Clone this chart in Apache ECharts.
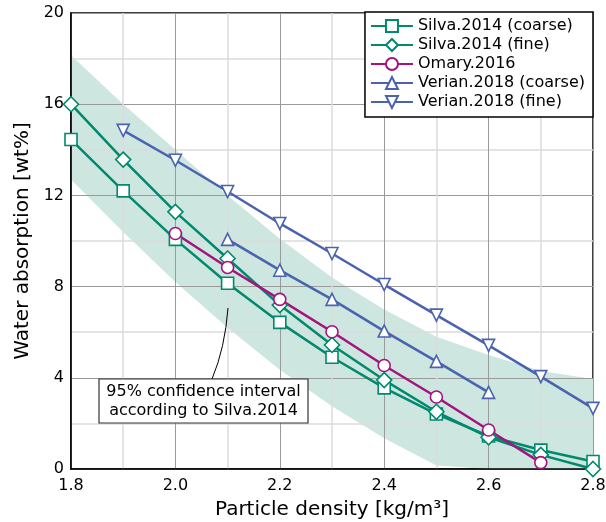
<!DOCTYPE html>
<html>
<head>
<meta charset="utf-8">
<script src="https://cdn.jsdelivr.net/npm/echarts@6/dist/echarts.min.js"></script>
<style>
  html, body { margin: 0; padding: 0; background: #fff; }
  #chart { width: 606px; height: 522px; }
</style>
</head>
<body>
<div id="chart"></div>
<script>
// particle density [kg/m3]
var density = [1.8, 1.9, 2.0, 2.1, 2.2, 2.3, 2.4, 2.5, 2.6, 2.7, 2.8];

// water absorption [wt%], null = no point
var silvaCoarse  = [14.45, 12.2, 10.07, 8.15, 6.43, 4.9, 3.56, 2.41, 1.45, 0.83, 0.33];
var silvaFine    = [16.0, 13.57, 11.28, 9.23, 7.19, 5.44, 3.9, 2.51, 1.39, 0.62, 0.0];
var omary        = [null, null, 10.33, 8.84, 7.44, 6.02, 4.54, 3.16, 1.71, 0.28, null];
var verianCoarse = [null, null, null, 10.07, 8.72, 7.44, 6.05, 4.72, 3.36, null, null];
var verianFine   = [null, 14.85, 13.54, 12.17, 10.77, 9.45, 8.09, 6.75, 5.42, 4.05, 2.66];

// 95% confidence band (Silva.2014)
var bandLower = [12.7, 10.4, 8.2, 6.2, 4.35, 2.75, 1.35, 0.15, 0, 0, 0];
var bandUpper = [18.15, 16.0, 14.0, 12.0, 10.1, 8.4, 7.0, 5.8, 5.0, 4.3, 3.95];

var teal = '#00896c';
var magenta = '#a3147e';
var blue = '#4b63ae';
var font = 'DejaVu Sans';

function pairs(ys) {
    var out = [];
    for (var i = 0; i < density.length; i++) {
        if (ys[i] !== null) out.push([density[i], ys[i]]);
    }
    return out;
}

function dataSeries(name, ys, color, symbol, size, rotate) {
    return {
        name: name,
        type: 'line',
        data: pairs(ys),
        symbol: symbol,
        symbolSize: size,
        symbolRotate: rotate || 0,
        showAllSymbol: true,
        lineStyle: { color: color, width: 2.5 },
        itemStyle: { color: '#fff', borderColor: color, borderWidth: 1.6 },
        emphasis: { disabled: true },
        z: 3,
        animation: false
    };
}

// whole band drawn once as a polygon (upper edge, then lower edge backwards)
function renderBand(params, api) {
    if (params.dataIndex !== 0) return null;
    var pts = [];
    for (var i = 0; i < density.length; i++) {
        pts.push(api.coord([density[i], bandUpper[i]]));
    }
    for (var j = density.length - 1; j >= 0; j--) {
        pts.push(api.coord([density[j], bandLower[j]]));
    }
    return {
        type: 'polygon',
        shape: { points: pts },
        style: { fill: '#cde6e0', stroke: null }
    };
}

var chart = echarts.init(document.getElementById('chart'));

var option = {
    animation: false,
    grid: {
        left: 71, right: 13, top: 13, bottom: 53,
        show: true, borderColor: '#000', borderWidth: 1.5,
        containLabel: false,
        outerBoundsMode: 'none',
        z: 0
    },
    legend: {
        data: ['Silva.2014 (coarse)', 'Silva.2014 (fine)', 'Omary.2016', 'Verian.2018 (coarse)', 'Verian.2018 (fine)'],
        orient: 'vertical',
        right: 13,
        top: 12,
        backgroundColor: '#fff',
        borderColor: '#000',
        borderWidth: 1.5,
        borderRadius: 0,
        padding: [6, 8, 7, 5],
        itemGap: 3,
        itemWidth: 42,
        itemHeight: 15,
        textStyle: { fontFamily: font, fontSize: 16, color: '#000' },
        z: 10
    },
    xAxis: {
        type: 'value',
        min: 1.8,
        max: 2.8,
        interval: 0.2,
        z: 2,
        name: 'Particle density [kg/m³]',
        nameLocation: 'middle',
        nameGap: 31,
        nameTextStyle: { fontFamily: font, fontSize: 20, color: '#000' },
        axisLine: { show: true, lineStyle: { color: '#000', width: 1.5 } },
        axisTick: { show: false },
        axisLabel: {
            fontFamily: font, fontSize: 16, color: '#000', margin: 9,
            formatter: function (v) { return v.toFixed(1); }
        },
        splitLine: { show: true, lineStyle: { color: '#9a9a9a', width: 1 } },
        minorTick: { show: false, splitNumber: 2 },
        minorSplitLine: { show: true, lineStyle: { color: '#dcdcdc', width: 1.5 } }
    },
    yAxis: {
        type: 'value',
        min: 0,
        max: 20,
        interval: 4,
        z: 2,
        name: 'Water absorption [wt%]',
        nameLocation: 'middle',
        nameGap: 35,
        nameTextStyle: { fontFamily: font, fontSize: 20, color: '#000' },
        axisLine: { show: true, lineStyle: { color: '#000', width: 1.5 } },
        axisTick: { show: false },
        axisLabel: { fontFamily: font, fontSize: 16, color: '#000', margin: 7 },
        splitLine: { show: true, lineStyle: { color: '#9a9a9a', width: 1 } },
        minorTick: { show: false, splitNumber: 2 },
        minorSplitLine: { show: true, lineStyle: { color: '#dcdcdc', width: 1.5 } }
    },
    series: [
        {
            name: 'band',
            type: 'custom',
            renderItem: renderBand,
            data: density.map(function (x, i) { return [x, bandLower[i], bandUpper[i]]; }),
            encode: { x: 0, y: [1, 2] },
            clip: true,
            silent: true,
            z: 1
        },
        dataSeries('Silva.2014 (coarse)', silvaCoarse, teal, 'rect', 12),
        dataSeries('Silva.2014 (fine)', silvaFine, teal, 'diamond', 15),
        dataSeries('Omary.2016', omary, magenta, 'circle', 12),
        dataSeries('Verian.2018 (coarse)', verianCoarse, blue, 'triangle', 12),
        dataSeries('Verian.2018 (fine)', verianFine, blue, 'triangle', 12, 180)
    ],
    graphic: [
        {
            type: 'bezierCurve',
            shape: { x1: 212, y1: 379, cpx1: 225, cpy1: 348, x2: 228, y2: 308 },
            style: { stroke: '#000', lineWidth: 1, fill: null },
            z: 100
        },
        {
            type: 'rect',
            shape: { x: 99, y: 379, width: 209, height: 44 },
            style: { fill: '#fff', stroke: '#333', lineWidth: 1.2 },
            z: 100
        },
        {
            type: 'text',
            x: 203.5,
            y: 401,
            style: {
                text: '95% confidence interval\naccording to Silva.2014',
                fontFamily: font,
                fontSize: 16,
                lineHeight: 19,
                fill: '#000',
                align: 'center',
                verticalAlign: 'middle'
            },
            z: 101
        }
    ]
};

chart.setOption(option);
</script>
</body>
</html>
